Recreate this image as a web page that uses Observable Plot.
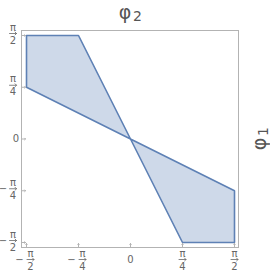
<!DOCTYPE html>
<html>
<head>
<meta charset="utf-8">
<script src="https://cdn.jsdelivr.net/npm/d3@7"></script>
<script src="https://cdn.jsdelivr.net/npm/@observablehq/plot@0.6"></script>
<style>
  html, body { margin: 0; padding: 0; background: #fff; }
</style>
</head>
<body>
<div id="chart"></div>
<script>
const PI = Math.PI;
// Region outline vertices (in units of π)
const phi2Vertices = [-0.5, -0.25, 0, 0.25, 0.5, 0.5, 0, -0.5, -0.5];
const phi1Vertices = [0.5, 0.5, 0, -0.5, -0.5, -0.25, 0, 0.25, 0.5];
// Tick values (units of π) and labels
const tickValues = [-0.5, -0.25, 0, 0.25, 0.5];
const tickSign = ["−", "−", "", "", ""];
const tickNum = ["π", "π", "0", "π", "π"];
const tickDen = ["2", "4", "", "4", "2"];
const titleSymbol = "φ";
const titleSub = "2";
const sideSymbol = "φ";
const sideSub = "1";

const region = phi2Vertices.map((v, i) => ({x: v * PI, y: phi1Vertices[i] * PI}));
const ticks = tickValues.map((v, i) => ({v: v * PI, sign: tickSign[i], num: tickNum[i], den: tickDen[i]}));
const negFracs = ticks.filter(d => d.den !== "" && d.sign !== "");
const posFracs = ticks.filter(d => d.den !== "" && d.sign === "");
const fracs = ticks.filter(d => d.den !== "");
const zeros = ticks.filter(d => d.den === "");

const labelColor = "#666";
const titleColor = "#555";
const fs = 10;

function xFrac(data, dx) {
  return [
    Plot.text(data, {x: "v", text: "num", frameAnchor: "bottom", lineAnchor: "middle", dy: 6, dx, fill: labelColor, fontSize: fs}),
    Plot.text(data, {x: "v", text: "den", frameAnchor: "bottom", lineAnchor: "middle", dy: 19, dx, fill: labelColor, fontSize: fs}),
    Plot.vector(data, {x: "v", frameAnchor: "bottom", dy: 12, dx, rotate: 90, length: 7, anchor: "middle", stroke: labelColor, strokeWidth: 0.8})
  ];
}

const plot = Plot.plot({
  width: 270,
  height: 275,
  marginLeft: 21,
  marginRight: 32,
  marginTop: 30,
  marginBottom: 28,
  insetLeft: 5,
  insetRight: 4,
  insetTop: 5,
  insetBottom: 5,
  style: {fontFamily: "DejaVu Sans, sans-serif", background: "#fff"},
  x: {domain: [-PI / 2, PI / 2], axis: null},
  y: {domain: [-PI / 2, PI / 2], axis: null},
  marks: [
    Plot.frame({stroke: "#b3b3b3", strokeWidth: 1}),
    Plot.line(region, {x: "x", y: "y", fill: "#5e81b5", fillOpacity: 0.3, stroke: "#5e81b5", strokeWidth: 1.6, strokeLinejoin: "miter"}),
    // inward ticks
    Plot.vector(ticks, {x: "v", frameAnchor: "bottom", rotate: 0, length: 4, anchor: "start", stroke: "#b3b3b3", strokeWidth: 1}),
    Plot.vector(ticks, {y: "v", frameAnchor: "left", rotate: 90, length: 4, anchor: "start", stroke: "#b3b3b3", strokeWidth: 1}),
    // x-axis tick labels
    ...xFrac(negFracs, 4),
    ...xFrac(posFracs, 0),
    Plot.text(negFracs, {x: "v", text: "sign", frameAnchor: "bottom", lineAnchor: "middle", dy: 12, dx: -7, fill: labelColor, fontSize: fs}),
    Plot.text(zeros, {x: "v", text: "num", frameAnchor: "bottom", lineAnchor: "middle", dy: 12, fill: labelColor, fontSize: fs}),
    // y-axis tick labels
    Plot.text(fracs, {y: "v", text: "num", frameAnchor: "left", textAnchor: "middle", dx: -8.5, dy: -8, fill: labelColor, fontSize: fs}),
    Plot.text(fracs, {y: "v", text: "den", frameAnchor: "left", textAnchor: "middle", dx: -8.5, dy: 5, fill: labelColor, fontSize: fs}),
    Plot.vector(fracs, {y: "v", frameAnchor: "left", dx: -8.5, dy: -2, rotate: 90, length: 7, anchor: "middle", stroke: labelColor, strokeWidth: 0.8}),
    Plot.text(negFracs, {y: "v", text: "sign", frameAnchor: "left", textAnchor: "middle", dx: -18.5, dy: -2, fill: labelColor, fontSize: fs}),
    Plot.text(zeros, {y: "v", text: "num", frameAnchor: "left", textAnchor: "middle", dx: -5.5, fill: labelColor, fontSize: fs}),
    // title and side label
    Plot.text([titleSymbol], {frameAnchor: "top", lineAnchor: "middle", textAnchor: "middle", dy: -18, dx: -5, fill: titleColor, fontSize: 19}),
    Plot.text([titleSub], {frameAnchor: "top", lineAnchor: "middle", textAnchor: "middle", dy: -14, dx: 7.5, fill: titleColor, fontSize: 14}),
    Plot.text([sideSymbol], {frameAnchor: "right", textAnchor: "middle", lineAnchor: "middle", dx: 21, dy: 5, rotate: -90, fill: titleColor, fontSize: 19}),
    Plot.text([sideSub], {frameAnchor: "right", textAnchor: "middle", lineAnchor: "middle", dx: 25, dy: -7.5, rotate: -90, fill: titleColor, fontSize: 14})
  ]
});
document.getElementById("chart").appendChild(plot);
</script>
</body>
</html>
